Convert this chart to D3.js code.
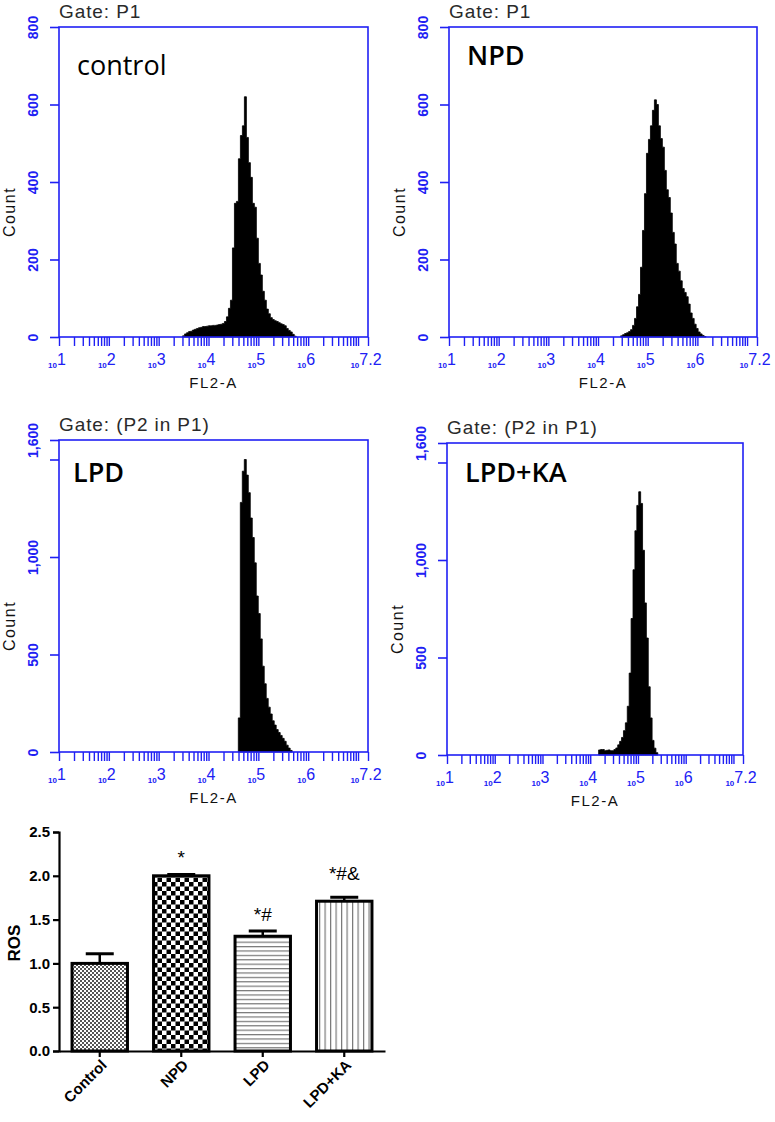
<!DOCTYPE html>
<html>
<head>
<meta charset="utf-8">
<script src="https://cdn.jsdelivr.net/npm/d3@7"></script>
<style>
  body { margin: 0; background: #fff; }
  svg { display: block; }
</style>
</head>
<body>
<div class="canvas"></div>
<script>
// FL2-A histograms: one count per 0.04-decade bin, starting at log10 value *Start
const binWidth = 0.04

const controlStart = 3.48
const controlCounts = [3, 8, 11, 14, 15, 18, 20, 22, 24, 25, 27, 27, 28, 29, 29, 30, 30, 31, 32, 33,
    35, 40, 52, 74, 95, 230, 345, 350, 460, 520, 545, 620, 515, 450, 412, 345, 335, 255, 190, 160,
    118, 95, 72, 60, 50, 45, 42, 40, 37, 34, 32, 29, 22, 17, 13, 7, 2]

const npdStart = 4.455
const npdCounts = [3, 6, 9, 11, 14, 19, 30, 48, 78, 110, 180, 275, 370, 474, 510, 545, 585, 612, 600, 545,
    512, 490, 430, 380, 360, 320, 270, 240, 190, 170, 145, 125, 115, 104, 85, 62, 48, 33, 22, 13, 8, 4, 1]

const lpdStart = 4.598
const lpdCounts = [175, 1280, 1440, 1500, 1420, 1330, 1200, 1100, 970, 800, 710, 580, 440, 350, 275, 230,
    195, 160, 138, 115, 100, 85, 70, 55, 35, 20, 8]

const lpdKaStart = 4.176
const lpdKaCounts = [26, 28, 28, 22, 24, 26, 22, 22, 28, 36, 52, 70, 90, 125, 165, 250, 420, 700, 950, 1150,
    1280, 1350, 1290, 1050, 780, 600, 350, 190, 75, 35, 12]

const gateTitles = ['Gate: P1', 'Gate: P1', 'Gate: (P2 in P1)', 'Gate: (P2 in P1)']
const panelNames = ['control', 'NPD', 'LPD', 'LPD+KA']
const countTicksTop = [0, 200, 400, 600, 800]
const countTicksBottom = [0, 500, 1000, 1500, 1600]
const countLabelsBottom = ['0', '500', '1,000', '', '1,600']
const decadeExps = [1, 2, 3, 4, 5, 6, 7.2]
const decadeLabels = ['1', '2', '3', '4', '5', '6', '7.2']

// ROS bar chart
const groups = ['Control', 'NPD', 'LPD', 'LPD+KA']
const rosMean = [1.0, 2.0, 1.31, 1.71]
const rosErr = [0.11, 0.015, 0.06, 0.045]
const sigMarks = ['', '*', '*#', '*#&']
const rosTicks = [0, 0.5, 1.0, 1.5, 2.0, 2.5]

const blue = '#2020f4'
const font = "'Liberation Sans', Arial, sans-serif"

const svg = d3.select('.canvas').append('svg').attr('width', 775).attr('height', 1122)
svg.append('rect').attr('width', 775).attr('height', 1122).attr('fill', '#fff')

const panels = [
    { left: 59, top: 27, width: 309, height: 310, yMax: 800, ticks: countTicksTop, labels: countTicksTop.map(d3.format(',')),
      start: controlStart, counts: controlCounts, nameX: 18, nameY: 48, weight: 400 },
    { left: 449, top: 27, width: 308, height: 310, yMax: 800, ticks: countTicksTop, labels: countTicksTop.map(d3.format(',')),
      start: npdStart, counts: npdCounts, nameX: 18, nameY: 38, weight: 600 },
    { left: 59, top: 440, width: 309, height: 312, yMax: 1600, ticks: countTicksBottom, labels: countLabelsBottom,
      start: lpdStart, counts: lpdCounts, nameX: 14, nameY: 42, weight: 600 },
    { left: 447, top: 443, width: 296, height: 312, yMax: 1600, ticks: countTicksBottom, labels: countLabelsBottom,
      start: lpdKaStart, counts: lpdKaCounts, nameX: 18, nameY: 39, weight: 600 }
]

const majorTicks = d3.range(1, 8).map(k => 10 ** k).concat([10 ** 7.2])
const minorTicks = d3.range(1, 7).flatMap(k => d3.range(2, 10).map(m => m * 10 ** k))

panels.forEach((p, i) => {
    const g = svg.append('g').attr('transform', `translate(${p.left}, ${p.top})`)

    const x = d3.scaleLog().domain([10, 10 ** 7.2]).range([0, p.width])
    const y = d3.scaleLinear().domain([0, p.yMax]).range([p.height, 0])

    // histogram
    const pts = p.counts.map((c, j) => ({ l: p.start + j * binWidth, c: c }))
    pts.push({ l: p.start + p.counts.length * binWidth, c: 0 })
    const area = d3.area()
        .x(d => x(10 ** d.l))
        .y0(y(0))
        .y1(d => y(d.c))
        .curve(d3.curveStepAfter)
    g.append('path').datum(pts).attr('d', area)
        .attr('fill', '#000').attr('stroke', '#000').attr('stroke-width', 0.8)

    // box
    g.append('rect').attr('width', p.width).attr('height', p.height)
        .attr('fill', 'none').attr('stroke', blue).attr('stroke-width', 1.6)

    // y axis
    const yAxis = d3.axisLeft(y).tickValues(p.ticks).tickSize(9).tickFormat((d, k) => p.labels[k])
    const yg = g.append('g').call(yAxis)
    yg.select('.domain').remove()
    yg.selectAll('line').attr('stroke', blue).attr('stroke-width', 1.6)
    yg.selectAll('text')
        .attr('transform', 'rotate(-90)')
        .attr('x', 0).attr('y', -21).attr('dy', 0)
        .attr('text-anchor', 'middle')
        .attr('fill', blue)
        .attr('font-family', font).attr('font-size', 14).attr('font-weight', 'bold')

    // x axis
    const xAxis = d3.axisBottom(x).tickValues(majorTicks.concat(minorTicks)).tickSize(9).tickFormat('')
    const xg = g.append('g').attr('transform', `translate(0, ${p.height})`).call(xAxis)
    xg.select('.domain').remove()
    xg.selectAll('line').attr('stroke', blue).attr('stroke-width', 1.4)

    const lab = g.append('g').attr('fill', blue).attr('font-family', font)
    decadeExps.forEach((e, k) => {
        const t = lab.append('text')
            .attr('x', x(10 ** e) - 2)
            .attr('y', p.height + 31)
            .attr('text-anchor', 'middle')
        t.append('tspan').attr('font-size', 8).attr('font-weight', 'bold').text('10')
        t.append('tspan').attr('font-size', 16).attr('dy', -3).text(decadeLabels[k])
    })

    // titles and labels
    g.append('text').attr('x', 0).attr('y', -9)
        .attr('font-family', font).attr('font-size', 19).attr('letter-spacing', 0.9).attr('fill', '#2a2a2a')
        .text(gateTitles[i])
    g.append('text').attr('x', p.nameX).attr('y', p.nameY)
        .attr('font-family', "'Open Sans', 'Noto Sans', sans-serif").attr('font-size', 27)
        .attr('font-weight', p.weight).attr('fill', '#000')
        .text(panelNames[i])
    g.append('text')
        .attr('transform', `translate(-44, ${p.height / 2 + 30}) rotate(-90)`)
        .attr('text-anchor', 'middle')
        .attr('font-family', font).attr('font-size', 16).attr('letter-spacing', 1.5).attr('fill', '#111')
        .text('Count')
    g.append('text')
        .attr('x', p.width / 2).attr('y', p.height + 51)
        .attr('text-anchor', 'middle')
        .attr('font-family', font).attr('font-size', 15).attr('letter-spacing', 1.5).attr('fill', '#111')
        .text('FL2-A')
})

// ---------- ROS bar chart ----------
const defs = svg.append('defs')

const fine = defs.append('pattern').attr('id', 'pat-control').attr('patternUnits', 'userSpaceOnUse')
    .attr('width', 4).attr('height', 4)
fine.append('rect').attr('width', 4).attr('height', 4).attr('fill', '#fff')
fine.append('rect').attr('width', 2).attr('height', 2).attr('fill', '#555')
fine.append('rect').attr('x', 2).attr('y', 2).attr('width', 2).attr('height', 2).attr('fill', '#555')

const checker = defs.append('pattern').attr('id', 'pat-npd').attr('patternUnits', 'userSpaceOnUse')
    .attr('width', 9).attr('height', 9)
checker.append('rect').attr('width', 9).attr('height', 9).attr('fill', '#fff')
checker.append('rect').attr('width', 4.5).attr('height', 4.5).attr('fill', '#000')
checker.append('rect').attr('x', 4.5).attr('y', 4.5).attr('width', 4.5).attr('height', 4.5).attr('fill', '#000')

const hlines = defs.append('pattern').attr('id', 'pat-lpd').attr('patternUnits', 'userSpaceOnUse')
    .attr('width', 10).attr('height', 4.4)
hlines.append('rect').attr('width', 10).attr('height', 4.4).attr('fill', '#fff')
hlines.append('rect').attr('width', 10).attr('height', 1.2).attr('fill', '#777')

const vlines = defs.append('pattern').attr('id', 'pat-lpdka').attr('patternUnits', 'userSpaceOnUse')
    .attr('width', 5.5).attr('height', 10)
vlines.append('rect').attr('width', 5.5).attr('height', 10).attr('fill', '#fff')
vlines.append('rect').attr('width', 1.2).attr('height', 10).attr('fill', '#777')

const patterns = ['url(#pat-control)', 'url(#pat-npd)', 'url(#pat-lpd)', 'url(#pat-lpdka)']
const sigGap = [10, 10, 10, 17]

const barX = d3.scaleBand().domain(groups).range([59, 385]).paddingInner(0.32).paddingOuter(0.16)
const barY = d3.scaleLinear().domain([0, 2.5]).range([1051, 832])

const chart = svg.append('g')

chart.selectAll('rect.bar').data(groups).enter().append('rect')
    .attr('class', 'bar')
    .attr('x', d => barX(d))
    .attr('width', barX.bandwidth())
    .attr('y', (d, i) => barY(rosMean[i]))
    .attr('height', (d, i) => barY(0) - barY(rosMean[i]))
    .attr('fill', (d, i) => patterns[i])
    .attr('stroke', '#000').attr('stroke-width', 3)

// upper error bars
const errG = chart.selectAll('g.err').data(groups).enter().append('g').attr('class', 'err')
errG.append('line')
    .attr('x1', d => barX(d) + barX.bandwidth() / 2).attr('x2', d => barX(d) + barX.bandwidth() / 2)
    .attr('y1', (d, i) => barY(rosMean[i])).attr('y2', (d, i) => barY(rosMean[i] + rosErr[i]))
    .attr('stroke', '#000').attr('stroke-width', 2.5)
errG.append('line')
    .attr('x1', d => barX(d) + barX.bandwidth() / 2 - 14).attr('x2', d => barX(d) + barX.bandwidth() / 2 + 14)
    .attr('y1', (d, i) => barY(rosMean[i] + rosErr[i])).attr('y2', (d, i) => barY(rosMean[i] + rosErr[i]))
    .attr('stroke', '#000').attr('stroke-width', 3)

// significance marks
chart.selectAll('text.sig').data(groups).enter().append('text')
    .attr('class', 'sig')
    .attr('x', d => barX(d) + barX.bandwidth() / 2)
    .attr('y', (d, i) => barY(rosMean[i] + rosErr[i]) - sigGap[i])
    .attr('text-anchor', 'middle')
    .attr('font-family', font).attr('font-size', 19)
    .text((d, i) => sigMarks[i])

// axes
const yAxisBar = d3.axisLeft(barY).tickValues(rosTicks).tickFormat(d3.format('.1f')).tickSize(6).tickPadding(3)
const ybg = chart.append('g').attr('transform', 'translate(59, 0)').call(yAxisBar)
ybg.select('.domain').attr('stroke-width', 2.2)
ybg.selectAll('line').attr('stroke-width', 2.2)
ybg.selectAll('text').attr('font-family', font).attr('font-size', 15).attr('font-weight', 'bold').attr('fill', '#000')

const xAxisBar = d3.axisBottom(barX).tickSize(6).tickSizeOuter(0)
const xbg = chart.append('g').attr('transform', 'translate(0, 1051)').call(xAxisBar)
xbg.select('.domain').attr('stroke-width', 2.2)
xbg.selectAll('line').attr('stroke-width', 2.2)
xbg.selectAll('text')
    .attr('transform', 'rotate(-45)')
    .attr('text-anchor', 'end')
    .attr('x', -5).attr('y', 11).attr('dy', '0.35em')
    .attr('font-family', font).attr('font-size', 15).attr('font-weight', 'bold').attr('fill', '#000')

chart.append('text')
    .attr('transform', 'translate(20, 943) rotate(-90)')
    .attr('text-anchor', 'middle')
    .attr('font-family', font).attr('font-size', 17).attr('font-weight', 'bold')
    .text('ROS')
</script>
</body>
</html>
